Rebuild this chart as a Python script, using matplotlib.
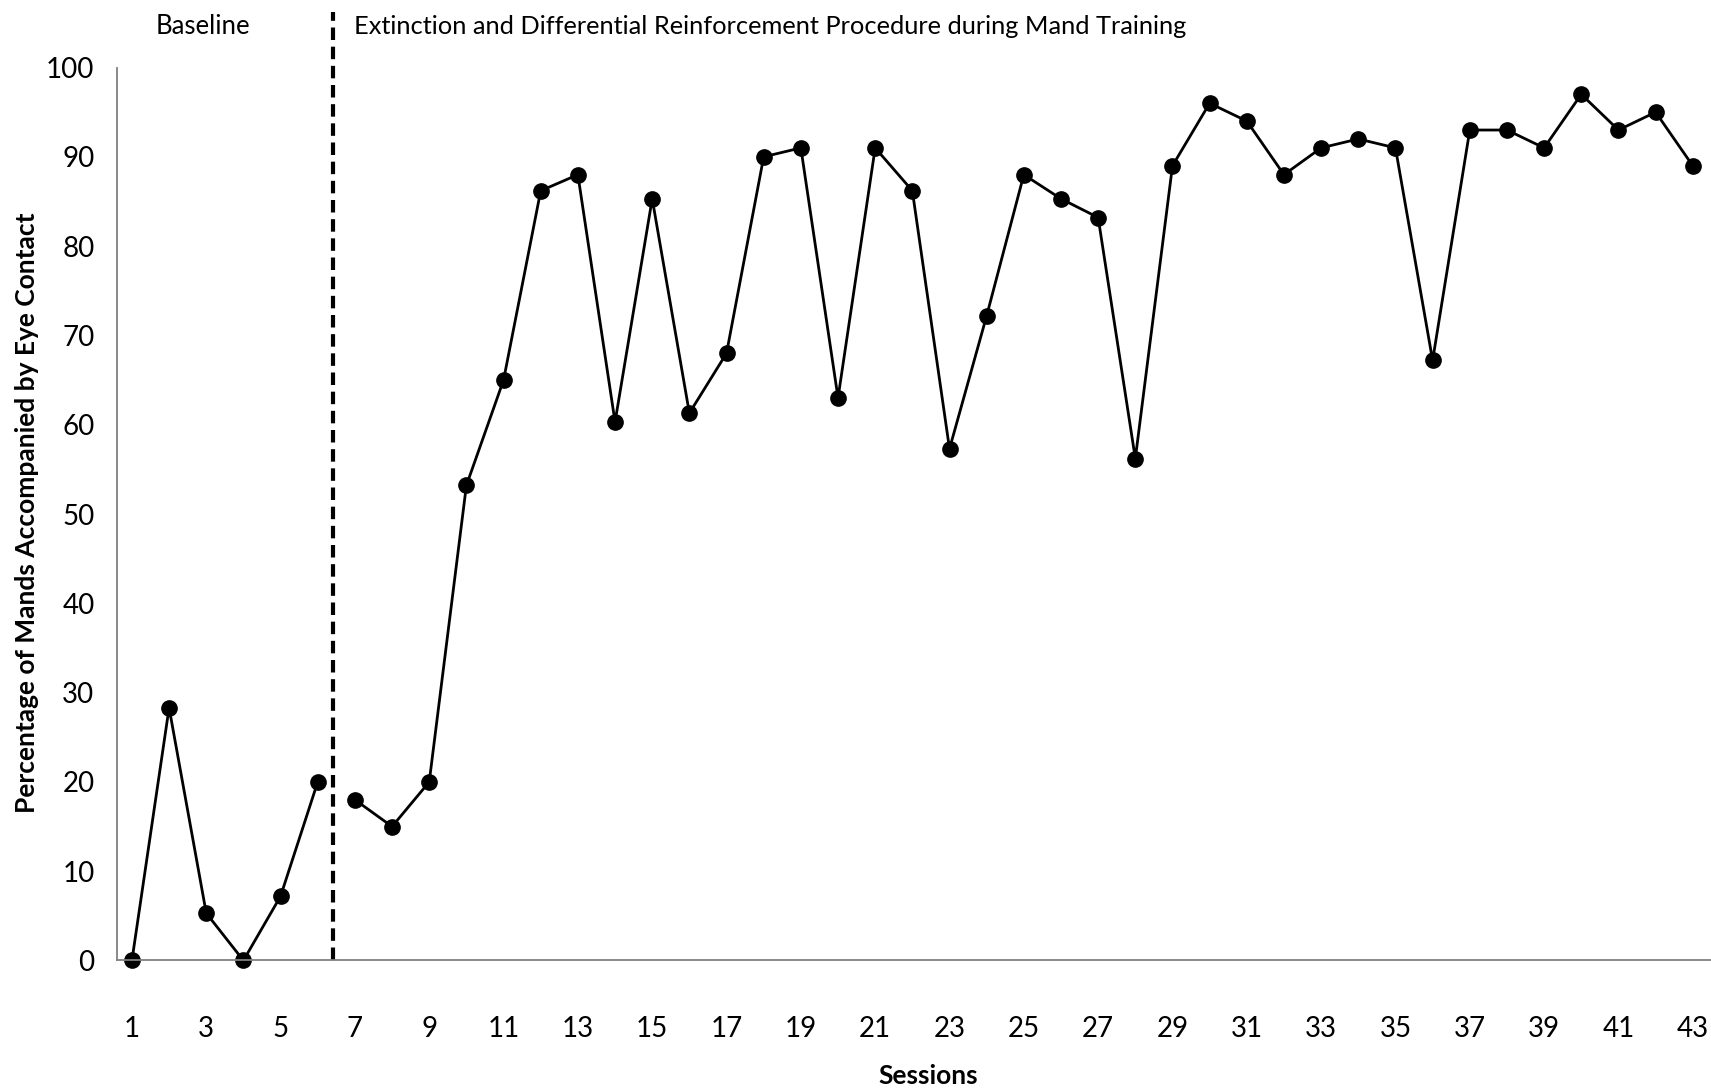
import matplotlib
matplotlib.use('Agg')
import matplotlib.pyplot as plt

plt.rcParams['font.family'] = ['Lato', 'DejaVu Sans']

# baseline phase (sessions 1-6)
baseline_sessions = [1, 2, 3, 4, 5, 6]
baseline_pct = [0, 28.3, 5.3, 0, 7.2, 20]

# extinction + differential reinforcement phase (sessions 7-43)
treatment_sessions = list(range(7, 44))
treatment_pct = [18, 15, 20, 53.2, 65, 86.2, 88, 60.3, 85.3, 61.3, 68, 90, 91,
                 63, 91, 86.2, 57.3, 72.2, 88, 85.3, 83.2, 56.2, 89, 96, 94,
                 88, 91, 92, 91, 67.2, 93, 93, 91, 97, 93, 95, 89]

xtick_vals = list(range(1, 44, 2))
ytick_vals = list(range(0, 101, 10))
phase_change = 6.41

fig = plt.figure(figsize=(17.11, 10.89), dpi=100)
ax = fig.add_axes([0.0682, 0.118, 0.932, 0.820])

line_kw = dict(color='black', linewidth=2, marker='o', markersize=11, clip_on=False)
ax.plot(baseline_sessions, baseline_pct, **line_kw)
ax.plot(treatment_sessions, treatment_pct, **line_kw)

ax.axvline(phase_change, ymin=0, ymax=1.062, color='black', linewidth=3,
           linestyle=(0, (3, 1.6)), clip_on=False)

ax.set_xlim(0.59, 43.5)
ax.set_ylim(0, 100)
ax.set_xticks(xtick_vals)
ax.set_yticks(ytick_vals)
ax.tick_params(axis='x', length=0, pad=40, labelsize=20)
ax.tick_params(axis='y', length=0, pad=16, labelsize=20)

for side in ['top', 'right']:
    ax.spines[side].set_visible(False)
for side in ['left', 'bottom']:
    ax.spines[side].set_color('#808080')
    ax.spines[side].set_linewidth(1.3)

ax.text(2.9, 104.6, 'Baseline', ha='center', va='center', fontsize=18.5, clip_on=False)
ax.text(6.98, 104.6, 'Extinction and Differential Reinforcement Procedure during Mand Training',
        ha='left', va='center', fontsize=18.3, clip_on=False)

fig.text(0.5427, 0.012, 'Sessions', ha='center', va='center', fontsize=19, fontweight='bold')
fig.text(0.016, 0.529, 'Percentage of Mands Accompanied by Eye Contact', rotation=90,
         ha='center', va='center', fontsize=19, fontweight='bold')

fig.savefig('out.png', dpi=100)
